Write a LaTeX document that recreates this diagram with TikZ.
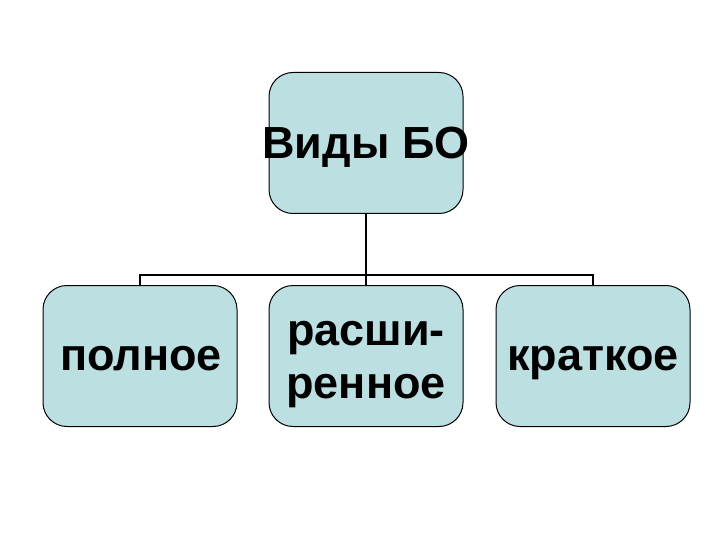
\documentclass[tikz,border=0pt]{standalone}
\usepackage{fontspec}
\setmainfont{Liberation Sans}
\definecolor{boxfill}{RGB}{188,223,226}
\begin{document}
\begin{tikzpicture}[x=1pt,y=-1pt,
  box/.style={draw=black, line width=1pt, fill=boxfill, rounded corners=24pt,
    minimum width=194pt, minimum height=141pt, inner sep=0pt},
  lbl/.style={font=\fontsize{45}{53}\selectfont\bfseries, inner sep=0pt, anchor=base},
  link/.style={draw=black, line width=2pt}]
\useasboundingbox (0,0) rectangle (720,540);
\node[box] (top) at (366,143) {};
\node[box] (left) at (140,356) {};
\node[box] (mid) at (366,356) {};
\node[box] (right) at (593,356) {};
\node[lbl] (ttop) at (366,159) {Виды БО};
\node[lbl] (tleft) at (141,370) {полное};
\node[lbl] (tmid1) at (366,345) {расши-};
\node[lbl] (tmid2) at (366,398) {ренное};
\node[lbl] (tright) at (593,370) {краткое};
\coordinate (hub) at (366,275);
\draw[link, line width=2.5pt] (top.south) -- (hub);
\draw[link] (hub) -| (left.north);
\draw[link] (hub) -| (right.north);
\draw[link] (hub) -- (mid.north);
\end{tikzpicture}
\end{document}
